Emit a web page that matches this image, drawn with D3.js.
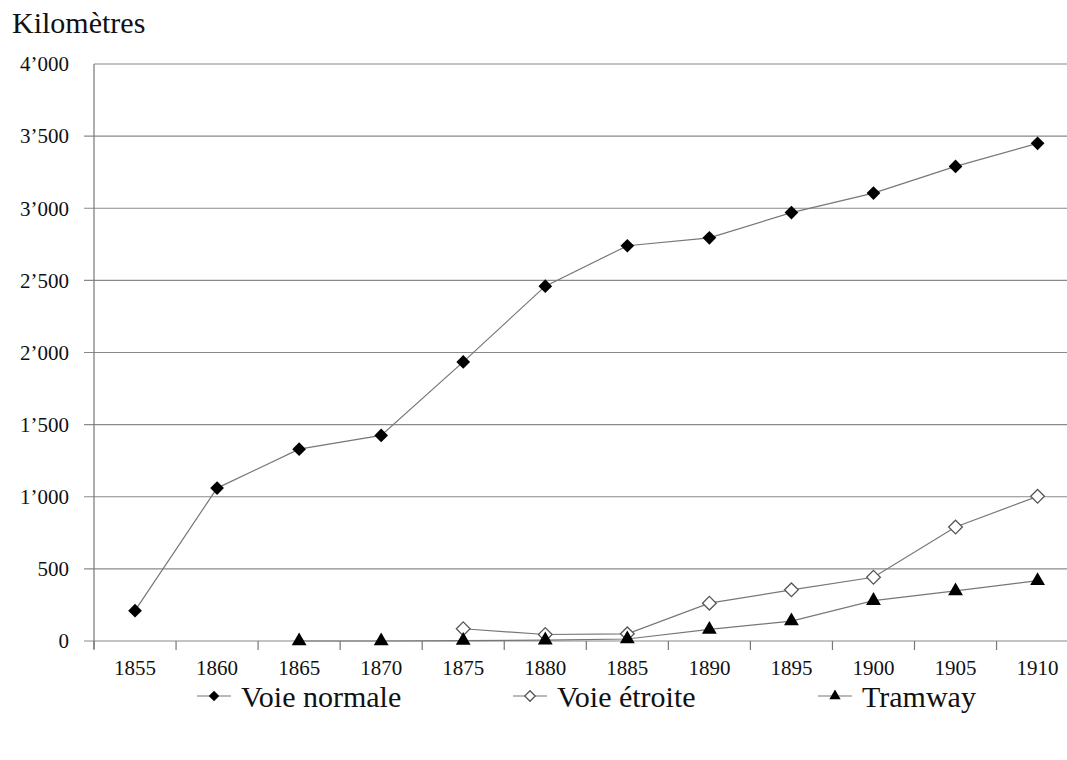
<!DOCTYPE html>
<html><head><meta charset="utf-8">
<script src="https://cdn.jsdelivr.net/npm/d3@7"></script>
<style>
html,body{margin:0;padding:0;background:#fff;overflow:hidden;}
svg{display:block;}
</style></head>
<body>
<svg id="chart" width="1067" height="760" font-family="'Liberation Serif', 'Times New Roman', Tinos, 'DejaVu Serif', serif"></svg>
<script>
const years = [1855,1860,1865,1870,1875,1880,1885,1890,1895,1900,1905,1910];
const voieNormale = [210,1060,1330,1425,1935,2460,2740,2795,2970,3105,3290,3450];
const voieEtroite = [null,null,null,null,85,45,50,262,355,442,790,1003];
const tramway     = [null,null,0,0,3,6,14,80,138,280,347,418];
const yTicks = [0,500,1000,1500,2000,2500,3000,3500,4000];
const yTickLabels = ["0","500","1’000","1’500","2’000","2’500","3’000","3’500","4’000"];
const seriesNames = ["Voie normale","Voie étroite","Tramway"];

(function(){
const svg = d3.select("#chart");
const pLeft = 94, pTop = 64, pBottom = 641, band = 82.05;
const pRight = pLeft + band*years.length;

const x = d3.scaleBand().domain(years).range([pLeft,pRight]);
const y = d3.scaleLinear().domain([0,4000]).range([pBottom,pTop]);
const cx = d => x(d) + x.bandwidth()/2;

// gridlines
svg.append("g").selectAll("line").data(yTicks).join("line")
  .attr("x1", d => d===4000 ? pLeft : pLeft-10)
  .attr("x2", pRight)
  .attr("y1", d => y(d)).attr("y2", d => y(d))
  .attr("stroke","#8a8a8a").attr("stroke-width",1.2);

// y axis line
svg.append("line").attr("x1",pLeft).attr("x2",pLeft).attr("y1",pTop).attr("y2",pBottom+8)
  .attr("stroke","#777").attr("stroke-width",1.2);

// y labels
svg.append("g").selectAll("text").data(yTicks).join("text")
  .attr("x",69).attr("y",d=>y(d)).attr("dy","0.35em")
  .attr("text-anchor","end").attr("font-size",21).attr("fill","#111")
  .text((d,i)=>yTickLabels[i]);

// x ticks at band boundaries
const bounds = years.map(d=>x(d)).concat([pRight]);
svg.append("g").selectAll("line").data(bounds).join("line")
  .attr("x1",d=>d).attr("x2",d=>d).attr("y1",pBottom).attr("y2",pBottom+9)
  .attr("stroke","#777").attr("stroke-width",1.2);

// x labels
svg.append("g").selectAll("text").data(years).join("text")
  .attr("x",d=>cx(d)).attr("y",pBottom+27).attr("dy","0.35em")
  .attr("text-anchor","middle").attr("font-size",21).attr("fill","#111")
  .text(d=>d);

// axis title
svg.append("text").attr("x",12).attr("y",33).attr("font-size",30).attr("fill","#111").text("Kilomètres");

const line = d3.line().defined(d=>d.v!=null).x(d=>cx(d.year)).y(d=>y(d.v));
const mk = arr => years.map((yr,i)=>({year:yr,v:arr[i]}));
const seriesData = [mk(voieNormale), mk(voieEtroite), mk(tramway)];

const dType = d3.symbolDiamond2 || d3.symbolDiamond;
const diamond = d3.symbol().type(dType).size(120)();
const diamondLegend = d3.symbol().type(dType).size(70)();
const tri = d3.symbol().type(d3.symbolTriangle).size(95)();
const triLegend = d3.symbol().type(d3.symbolTriangle).size(55)();

function marker(g, i, legend){
  if(i===0) g.append("path").attr("d", legend?diamondLegend:diamond).attr("fill","#000");
  else if(i===1) g.append("path").attr("d", legend?diamondLegend:diamond).attr("fill","#fff").attr("stroke","#555").attr("stroke-width",1.3);
  else g.append("path").attr("d", legend?triLegend:tri).attr("fill","#000");
}

seriesData.forEach((data,i)=>{
  svg.append("path").datum(data).attr("d",line)
    .attr("fill","none").attr("stroke","#777").attr("stroke-width",1.2);
});
seriesData.forEach((data,i)=>{
  data.filter(d=>d.v!=null).forEach(d=>{
    const g = svg.append("g").attr("transform",`translate(${cx(d.year)},${y(d.v)})`);
    marker(g,i,false);
  });
});

// legend
const legendX = [197, 513, 818];
seriesNames.forEach((name,i)=>{
  const gx = legendX[i], gy = 696;
  svg.append("line").attr("x1",gx).attr("x2",gx+34).attr("y1",gy).attr("y2",gy)
    .attr("stroke","#777").attr("stroke-width",1.2);
  const g = svg.append("g").attr("transform",`translate(${gx+17},${gy})`);
  marker(g,i,true);
  svg.append("text").attr("x",gx+44).attr("y",gy).attr("dy","0.35em")
    .attr("font-size",30).attr("fill","#111").text(name);
});
})();
</script>
</body></html>
